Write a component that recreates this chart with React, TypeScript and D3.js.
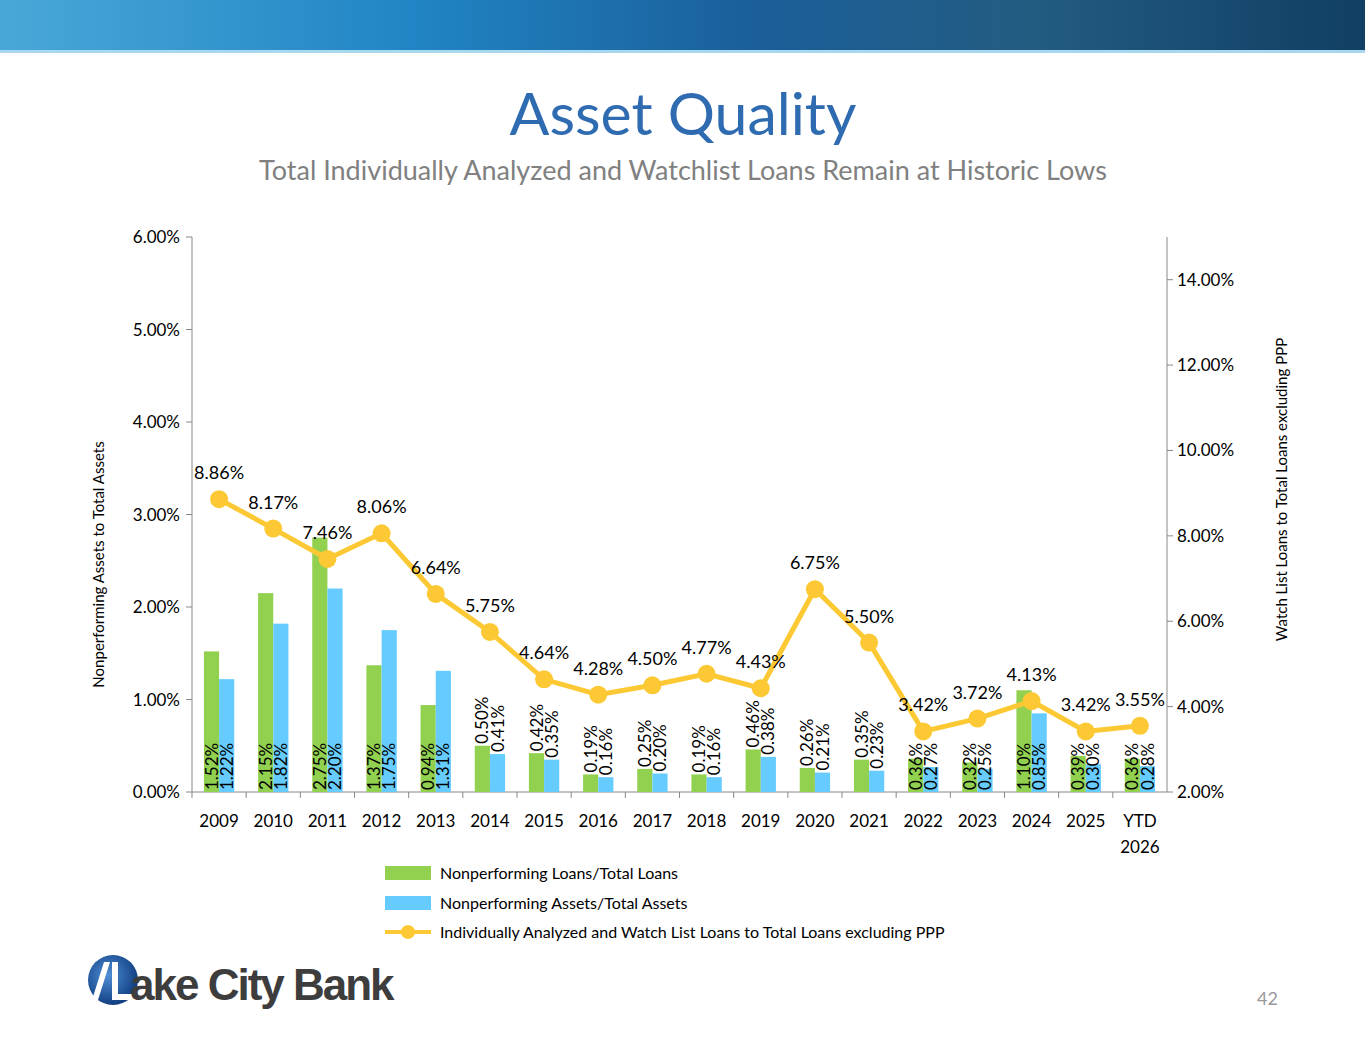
import React from "react";
import * as d3 from "d3";

const categories = ["2009","2010","2011","2012","2013","2014","2015","2016","2017","2018","2019","2020","2021","2022","2023","2024","2025","YTD\n2026"];
const npLoans = [1.52,2.15,2.75,1.37,0.94,0.50,0.42,0.19,0.25,0.19,0.46,0.26,0.35,0.36,0.32,1.10,0.39,0.36];
const npAssets = [1.22,1.82,2.20,1.75,1.31,0.41,0.35,0.16,0.20,0.16,0.38,0.21,0.23,0.27,0.25,0.85,0.30,0.28];
const watch = [8.86,8.17,7.46,8.06,6.64,5.75,4.64,4.28,4.50,4.77,4.43,6.75,5.50,3.42,3.72,4.13,3.42,3.55];
const labelAtBase = [true,true,true,true,true,false,false,false,false,false,false,false,false,true,true,true,true,true];
const leftTicks = [0,1,2,3,4,5,6];
const rightTicks = [2,4,6,8,10,12,14];

const FONT = "Lato, 'Open Sans', sans-serif";
const GREEN = "#92d050";
const BLUE = "#66ccff";
const GOLD = "#fcc934";

export default function App() {
  const left = 192, right = 1167, top = 237, bottom = 792;
  const x = d3.scaleBand().domain(categories).range([left, right]).paddingInner(0.44).paddingOuter(0.22);
  const yL = d3.scaleLinear().domain([0, 6]).range([bottom, top]);
  const yR = d3.scaleLinear().domain([2, 15]).range([bottom, top]);
  const bw = x.bandwidth() / 2;
  const cx = (c: string) => (x(c) as number) + x.bandwidth() / 2;
  const line = d3.line<number>().x((_, i) => cx(categories[i])).y(d => yR(d));
  const fmt = (v: number) => v.toFixed(2) + "%";

  const barLabel = (v: number, xc: number, i: number, key: string) => {
    const yb = labelAtBase[i] ? bottom - 2 : yL(v) - 2;
    return (
      <text key={key} transform={`translate(${xc + 6},${yb}) rotate(-90)`} fontSize={17} fill="#000" fontFamily={FONT}>
        {fmt(v)}
      </text>
    );
  };

  return (
    <svg width={1365} height={1047} style={{ position: "absolute", left: 0, top: 0, background: "#fff" }}>
      <defs>
        <linearGradient id="ban" x1="0" x2="1" y1="0" y2="0">
          <stop offset="0" stopColor="#4aa8d8" />
          <stop offset="0.3" stopColor="#2185c5" />
          <stop offset="0.55" stopColor="#1a5f9a" />
          <stop offset="0.75" stopColor="#245c82" />
          <stop offset="1" stopColor="#103f63" />
        </linearGradient>
        <radialGradient id="logo" cx="0.4" cy="0.4" r="0.6">
          <stop offset="0" stopColor="#4f8fd6" />
          <stop offset="1" stopColor="#123f82" />
        </radialGradient>
      </defs>
      <rect x={0} y={0} width={1365} height={50} fill="url(#ban)" />
      <rect x={0} y={50} width={1365} height={3} fill="#a8d8f0" />
      <text x={683} y={135} textAnchor="middle" fontSize={59} fill="#2e6bb0" fontFamily={FONT}>Asset Quality</text>
      <text x={683} y={180} textAnchor="middle" fontSize={27} fill="#808080" fontFamily={FONT}>Total Individually Analyzed and Watchlist Loans Remain at Historic Lows</text>

      <line x1={left} x2={left} y1={top} y2={bottom} stroke="#888" />
      <line x1={right} x2={right} y1={top} y2={bottom} stroke="#888" />
      <line x1={left} x2={right} y1={bottom} y2={bottom} stroke="#888" />
      {leftTicks.map(t => (
        <g key={"l" + t}>
          <line x1={left - 6} x2={left} y1={yL(t)} y2={yL(t)} stroke="#888" />
          <text x={left - 12} y={yL(t) + 6} textAnchor="end" fontSize={17} fontFamily={FONT} fill="#000">{t.toFixed(2)}%</text>
        </g>
      ))}
      {rightTicks.map(t => (
        <g key={"r" + t}>
          <line x1={right} x2={right + 6} y1={yR(t)} y2={yR(t)} stroke="#888" />
          <text x={right + 10} y={yR(t) + 6} fontSize={17} fontFamily={FONT} fill="#000">{t.toFixed(2)}%</text>
        </g>
      ))}
      {categories.map(c => (
        <g key={"c" + c}>
          <line x1={(x(c) as number) - x.step() * 0.22} x2={(x(c) as number) - x.step() * 0.22} y1={bottom} y2={bottom + 6} stroke="#888" />
          {c.split("\n").map((s, i) => (
            <text key={i} x={cx(c)} y={bottom + 35 + i * 26} textAnchor="middle" fontSize={17} fontFamily={FONT} fill="#000">{s}</text>
          ))}
        </g>
      ))}
      <text transform={`translate(104,${(top + bottom) / 2 + 50}) rotate(-90)`} textAnchor="middle" fontSize={15} fontFamily={FONT} fill="#000">Nonperforming Assets to Total Assets</text>
      <text transform={`translate(1287,${(top + bottom) / 2 - 25}) rotate(-90)`} textAnchor="middle" fontSize={15} fontFamily={FONT} fill="#000">Watch List Loans to Total Loans excluding PPP</text>

      {categories.map((c, i) => (
        <g key={"b" + c}>
          <rect x={x(c) as number} y={yL(npLoans[i])} width={bw} height={bottom - yL(npLoans[i])} fill={GREEN} />
          <rect x={(x(c) as number) + bw} y={yL(npAssets[i])} width={bw} height={bottom - yL(npAssets[i])} fill={BLUE} />
        </g>
      ))}

      <path d={line(watch) || ""} fill="none" stroke={GOLD} strokeWidth={5} />
      {watch.map((v, i) => (
        <circle key={"p" + i} cx={cx(categories[i])} cy={yR(v)} r={9} fill={GOLD} />
      ))}
      {watch.map((v, i) => (
        <text key={"wl" + i} x={cx(categories[i])} y={yR(v) - 20} textAnchor="middle" fontSize={18} fontFamily={FONT} fill="#000">{fmt(v)}</text>
      ))}
      {categories.map((c, i) => barLabel(npLoans[i], (x(c) as number) + bw / 2, i, "gl" + c))}
      {categories.map((c, i) => barLabel(npAssets[i], (x(c) as number) + bw * 1.5, i, "bl" + c))}

      <rect x={385} y={866} width={46} height={14} fill={GREEN} />
      <text x={440} y={879} fontSize={16} fontFamily={FONT} fill="#000">Nonperforming Loans/Total Loans</text>
      <rect x={385} y={896} width={46} height={14} fill={BLUE} />
      <text x={440} y={909} fontSize={16} fontFamily={FONT} fill="#000">Nonperforming Assets/Total Assets</text>
      <line x1={385} x2={431} y1={932} y2={932} stroke={GOLD} strokeWidth={4} />
      <circle cx={408} cy={932} r={7} fill={GOLD} />
      <text x={440} y={938} fontSize={16} fontFamily={FONT} fill="#000">Individually Analyzed and Watch List Loans to Total Loans excluding PPP</text>

      <circle cx={113} cy={980} r={25} fill="url(#logo)" />
      <path d="M104 962 L110 962 L98 1000 L92 1000 Z M112 962 L118 962 L118 994 L134 994 L134 1000 L112 1000 Z" fill="#fff" />
      <text x={130} y={1000} fontSize={44} fontWeight="bold" fontFamily="'Liberation Sans', Arial, sans-serif" fill="#3d3d3d" letterSpacing={-2}>ake City Bank</text>
      <text x={1278} y={1005} textAnchor="end" fontSize={18} fontFamily={FONT} fill="#999">42</text>
    </svg>
  );
}
